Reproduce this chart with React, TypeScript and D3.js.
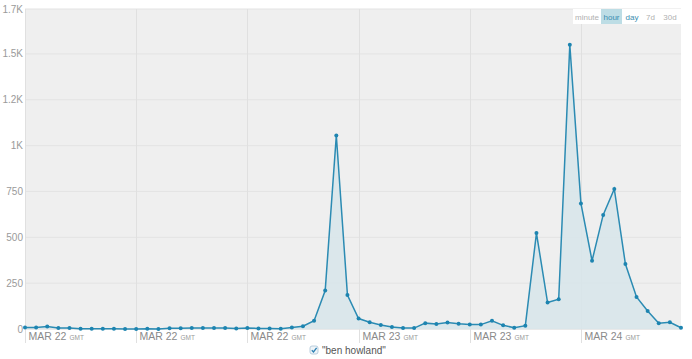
import React from "react";
import * as d3 from "d3";

const startTime = "2013-03-22T00:00:00Z";
const counts: number[] = [
  8, 8, 14, 6, 6, 2, 2, 2, 1, 0,
  0, 1, 0, 4, 4, 5, 6, 6, 6, 3,
  6, 3, 3, 2, 8, 15, 45, 210, 1055, 185,
  57, 37, 22, 11, 5, 5, 32, 27, 36, 28,
  25, 24, 45, 20, 7, 18, 523, 144, 162, 1550,
  685, 372, 622, 764, 354, 175, 98, 31, 37, 7,
];
const yTickValues = [0, 250, 500, 750, 1000, 1250, 1500, 1745];
const yTickLabels = ["0", "250", "500", "750", "1K", "1.2K", "1.5K", "1.7K"];
const xTickIndices = [0, 10, 20, 30, 40, 50];
const rangeButtons = ["minute", "hour", "day", "7d", "30d"];
const activeButton = "hour";
const seriesName = "\"ben howland\"";

const W = 692;
const H = 359;
const M = { left: 25, right: 11, top: 9, bottom: 30 };
const FONT = "'Helvetica Neue', Helvetica, Arial, 'Liberation Sans', sans-serif";

export default function App() {
  const t0 = new Date(startTime).getTime();
  const data = counts.map((v, i) => ({ date: new Date(t0 + i * 3600 * 1000), v }));
  const x = d3
    .scaleTime()
    .domain([data[0].date, data[data.length - 1].date])
    .range([M.left, W - M.right]);
  const y = d3.scaleLinear().domain([0, 1745]).range([H - M.bottom, M.top]);
  const line = d3
    .line<{ date: Date; v: number }>()
    .x((d) => x(d.date))
    .y((d) => y(d.v));
  const area = d3
    .area<{ date: Date; v: number }>()
    .x((d) => x(d.date))
    .y0(y(0))
    .y1((d) => y(d.v));
  const fmt = d3.utcFormat("%b %d");

  const btnWidths = [28, 21, 20, 17, 22];
  let bx = 573;
  const btns = rangeButtons.map((b, i) => {
    const r = { label: b, x: bx, w: btnWidths[i] };
    bx += btnWidths[i];
    return r;
  });

  return (
    <svg
      width={W}
      height={H}
      style={{ position: "absolute", left: 0, top: 0, fontFamily: FONT }}
    >
      <rect x={M.left} y={M.top} width={W - M.left - M.right} height={H - M.bottom - M.top + 1} fill="#efefef" />
      {yTickValues.map((v, i) => (
        <g key={"y" + i}>
          <line x1={M.left} x2={W - M.right} y1={y(v)} y2={y(v)} stroke="#e3e3e3" strokeWidth={1} />
          <text x={M.left - 2} y={y(v) + 3.5} textAnchor="end" fontSize={10} fill="#9a9a9a">
            {yTickLabels[i]}
          </text>
        </g>
      ))}
      {xTickIndices.map((idx) => {
        const d = data[idx].date;
        const xx = Math.round(x(d)) + 0.5;
        return (
          <g key={"x" + idx}>
            <line x1={xx} x2={xx} y1={M.top} y2={H - 16} stroke="#e0e0e0" strokeWidth={1} />
            <text x={xx + 3} y={H - 19} fontSize={10.5} fill="#8a8a8a">
              {fmt(d).toUpperCase()}
              <tspan fontSize={6.5} dx={3} fill="#9a9a9a">GMT</tspan>
            </text>
          </g>
        );
      })}
      <path d={area(data) || ""} fill="#d8e5ea" fillOpacity={0.9} />
      <path d={line(data) || ""} fill="none" stroke="#2b8bb3" strokeWidth={1.5} />
      {data.map((d, i) => (
        <circle key={"p" + i} cx={x(d.date)} cy={y(d.v)} r={2} fill="#1d84b0" />
      ))}
      <g>
        <rect x={573} y={9} width={108} height={15} fill="#ffffff" />
        {btns.map((b) => (
          <g key={b.label}>
            {b.label === activeButton && (
              <rect x={b.x} y={9} width={b.w} height={15} fill="#bddde5" />
            )}
            <text
              x={b.x + b.w / 2}
              y={19.5}
              textAnchor="middle"
              fontSize={8}
              fill={b.label === activeButton || b.label === "day" ? "#3a8db0" : "#b0b0b0"}
            >
              {b.label}
            </text>
          </g>
        ))}
      </g>
      <g transform="translate(310,346)">
        <rect x={0} y={0} width={8} height={8} rx={2} fill="#eef4f8" stroke="#a9c3d6" strokeWidth={0.8} />
        <path d="M1.8,4.2 L3.5,6 L6.6,1.8" fill="none" stroke="#2b7fb3" strokeWidth={1.3} />
        <text x={12} y={7.5} fontSize={10} fill="#555">
          {seriesName}
        </text>
      </g>
    </svg>
  );
}
